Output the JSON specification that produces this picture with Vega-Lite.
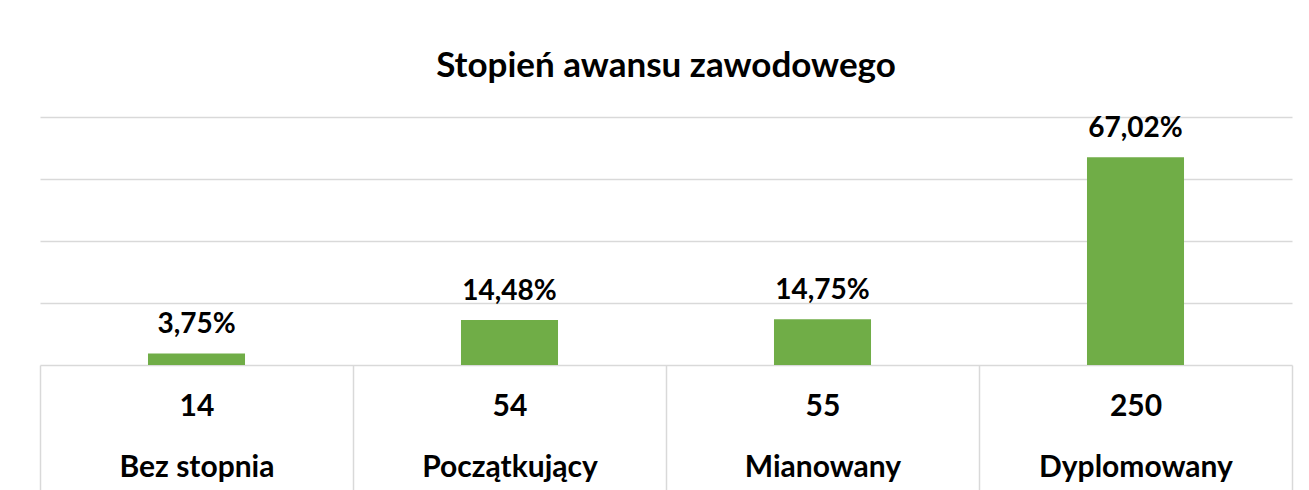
{
  "$schema": "https://vega.github.io/schema/vega-lite/v6.json",
  "width": 1252,
  "height": 248,
  "autosize": "none",
  "padding": {"left": 40, "top": 117, "right": 17, "bottom": 125},
  "background": "white",
  "config": {
    "view": {"stroke": null},
    "font": "Lato",
    "locale": {"number": {"decimal": ",", "thousands": " ", "grouping": [3], "currency": ["", " zł"]}}
  },
  "title": {"text": "Stopień awansu zawodowego", "fontSize": 35, "font": "Lato", "fontWeight": "bold", "color": "#000000", "anchor": "middle", "offset": 31},
  "data": {"values": [
    {"name": "Bez stopnia", "count": 14, "share": 0.0375},
    {"name": "Początkujący", "count": 54, "share": 0.1448},
    {"name": "Mianowany", "count": 55, "share": 0.1475},
    {"name": "Dyplomowany", "count": 250, "share": 0.6702}
  ]},
  "transform": [{"calculate": "datum.count + '|' + datum.name", "as": "label"}],
  "encoding": {
    "x": {
      "field": "label", "type": "nominal", "sort": null,
      "scale": {"paddingInner": 0, "paddingOuter": 0},
      "axis": {
        "title": null, "labelAngle": 0,
        "domainColor": "#d9d9d9", "domainWidth": 1.5,
        "tickColor": "#d9d9d9", "tickWidth": 1.5, "tickSize": 130, "tickBand": "extent",
        "labelExpr": "isString(datum.value) ? split(datum.value, '|') : ''",
        "labelFont": "Lato", "labelFontSize": 30, "labelFontWeight": "bold", "labelColor": "#000000",
        "labelLineHeight": 61, "labelPadding": -104, "labelOverlap": false, "labelLimit": 0, "labelBaseline": "top"
      }
    },
    "y": {
      "field": "share", "type": "quantitative",
      "scale": {"domain": [0, 0.8]},
      "axis": {"title": null, "labels": false, "ticks": false, "domain": false, "grid": true, "gridColor": "#d9d9d9", "gridWidth": 1.5, "values": [0.2, 0.4, 0.6, 0.8]}
    }
  },
  "layer": [
    {"mark": {"type": "bar", "color": "#70AD47", "width": {"band": 0.31}}},
    {"mark": {"type": "text", "font": "Lato", "fontSize": 28, "fontWeight": "bold", "color": "#000000", "dy": -20, "baseline": "alphabetic"},
     "encoding": {"text": {"field": "share", "type": "quantitative", "format": ".2%"}}}
  ]
}
